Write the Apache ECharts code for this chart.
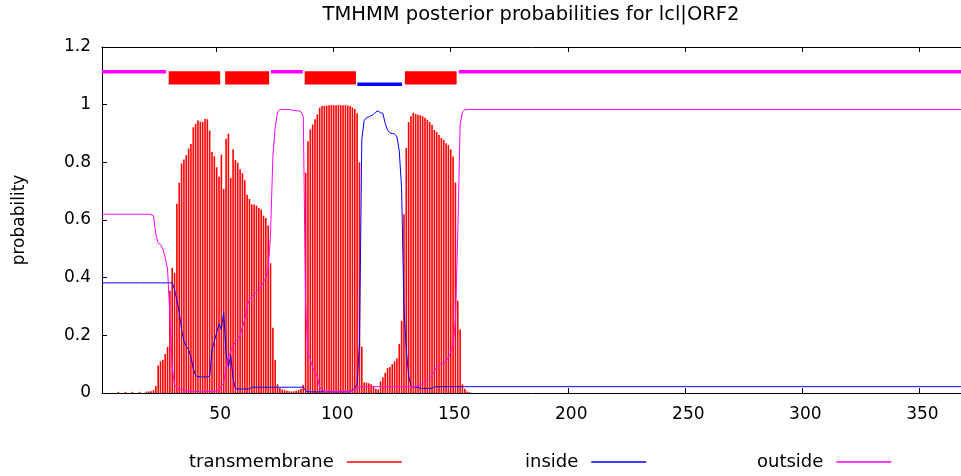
<!DOCTYPE html>
<html><head><meta charset="utf-8">
<script src="https://cdn.jsdelivr.net/npm/echarts@6/dist/echarts.min.js"></script>
<style>html,body{margin:0;padding:0;background:#fff}#c{width:961px;height:476px}</style>
</head><body><div id="c"></div>
<script>
const chartTitle = 'TMHMM posterior probabilities for lcl|ORF2';
const yAxisName = 'probability';
const seqLength = 368;
const xTickValues = [50, 100, 150, 200, 250, 300, 350];
const seriesNames = ['transmembrane', 'inside', 'outside'];

// per-residue posterior probabilities, residues 1..158
const tmProb = [
0,0,0,0,0,0,0,0.004,0,0,
0.004,0,0,0.004,0,0,0.004,0,0,0.005,
0.005,0.006,0.01,0.024,0.095,0.11,0.115,0.135,0.16,0.355,
0.434,0.417,0.656,0.729,0.796,0.81,0.825,0.848,0.864,0.922,
0.934,0.945,0.941,0.94,0.951,0.949,0.91,0.836,0.821,0.783,
0.75,0.827,0.708,0.882,0.899,0.746,0.845,0.808,0.799,0.776,
0.762,0.738,0.688,0.673,0.654,0.654,0.65,0.642,0.636,0.615,
0.607,0.581,0.45,0.226,0.114,0.03,0.018,0.012,0.01,0.008,
0.006,0.005,0.006,0.008,0.01,0.015,0.028,0.764,0.873,0.914,
0.931,0.949,0.966,0.989,0.995,0.996,0.997,0.998,0.998,0.998,
0.998,0.998,0.998,0.998,0.998,0.997,0.995,0.99,0.985,0.97,
0.8,0.16,0.036,0.036,0.034,0.03,0.024,0.015,0.012,0.04,
0.055,0.07,0.087,0.09,0.1,0.11,0.12,0.17,0.25,0.62,
0.85,0.94,0.96,0.972,0.968,0.965,0.963,0.96,0.955,0.948,
0.94,0.93,0.912,0.905,0.895,0.885,0.878,0.866,0.86,0.845,
0.82,0.73,0.32,0.22,0.03,0.015,0.005,0.003
];
const insideProb = [
0.382,0.382,0.382,0.382,0.382,0.382,0.382,0.382,0.382,0.382,
0.382,0.382,0.382,0.382,0.382,0.382,0.382,0.382,0.382,0.382,
0.382,0.382,0.382,0.382,0.382,0.382,0.382,0.382,0.382,0.382,
0.382,0.359,0.32,0.28,0.22,0.18,0.162,0.15,0.125,0.085,
0.06,0.057,0.056,0.056,0.056,0.056,0.058,0.15,0.18,0.21,
0.24,0.22,0.28,0.14,0.09,0.13,0.05,0.015,0.014,0.014,
0.014,0.014,0.014,0.014,0.02,0.02,0.02,0.02,0.02,0.02,
0.02,0.02,0.02,0.02,0.02,0.02,0.02,0.02,0.02,0.02,
0.02,0.02,0.02,0.02,0.02,0.02,0.02,0.008,0.004,0.004,
0.004,0.004,0.004,0.004,0.004,0.004,0.004,0.004,0.004,0.004,
0.004,0.004,0.004,0.004,0.004,0.004,0.004,0.01,0.018,0.03,
0.17,0.88,0.945,0.955,0.958,0.962,0.966,0.975,0.978,0.972,
0.97,0.935,0.912,0.902,0.9,0.898,0.89,0.84,0.71,0.3,
0.15,0.06,0.025,0.02,0.02,0.02,0.016,0.016,0.016,0.016,
0.016,0.016,0.022,0.022,0.022,0.022,0.022,0.022,0.022,0.022,
0.022,0.022,0.022,0.022,0.022,0.022,0.022,0.022
];
const outsideProb = [
0.62,0.62,0.62,0.62,0.62,0.62,0.62,0.62,0.62,0.62,
0.62,0.62,0.62,0.62,0.62,0.62,0.62,0.62,0.62,0.62,
0.62,0.618,0.615,0.55,0.52,0.515,0.5,0.47,0.43,0.27,
0.09,0.028,0.018,0.014,0.012,0.01,0.008,0.006,0.005,0.005,
0.005,0.005,0.005,0.005,0.005,0.005,0.005,0.005,0.005,0.008,
0.01,0.024,0.035,0.09,0.12,0.145,0.162,0.178,0.186,0.2,
0.228,0.256,0.3,0.325,0.336,0.34,0.35,0.362,0.37,0.385,
0.4,0.428,0.55,0.82,0.92,0.975,0.983,0.983,0.983,0.983,
0.983,0.982,0.98,0.979,0.979,0.975,0.96,0.3,0.14,0.115,
0.09,0.07,0.058,0.02,0.01,0.006,0.006,0.006,0.006,0.006,
0.006,0.006,0.006,0.006,0.006,0.006,0.006,0.008,0.012,0.018,
0.022,0.022,0.022,0.022,0.022,0.022,0.022,0.022,0.022,0.022,
0.022,0.022,0.022,0.022,0.022,0.022,0.022,0.022,0.022,0.022,
0.022,0.022,0.022,0.022,0.022,0.023,0.028,0.033,0.04,0.046,
0.052,0.063,0.075,0.09,0.1,0.102,0.104,0.11,0.125,0.14,
0.17,0.25,0.55,0.93,0.975,0.982,0.983,0.983
];
// value at the last residue (flat tail)
const insideLast = 0.022;
const outsideLast = 0.983;

// predicted topology segments [start, end] in residue units
const topoOutside = [[1, 28.4], [73.2, 86.8], [153.4, 368]];
const topoInside = [[110.1, 129.2]];
const topoTM = [[29.5, 51.5], [53.6, 72.4], [87.6, 109.5], [130.4, 152.5]];

const RED = '#ff0000', BLUE = '#0000ff', MAG = '#ff00ff';
const FONT = 'DejaVu Sans';
const FS = 17;

const tmData = tmProb.map((v, i) => [i + 1, v]);
const inData = insideProb.map((v, i) => [i + 1, v]).concat([[seqLength, insideLast]]);
const outData = outsideProb.map((v, i) => [i + 1, v]).concat([[seqLength, outsideLast]]);
const topoData = []
  .concat(topoOutside.map(s => [s[0], s[1], 0]))
  .concat(topoInside.map(s => [s[0], s[1], 1]))
  .concat(topoTM.map(s => [s[0], s[1], 2]));

const chart = echarts.init(document.getElementById('c'), null, {renderer: 'canvas'});

function legendFor(name, left) {
  return {
    data: [name], left: left, top: 453, padding: 0, align: 'right',
    icon: 'rect', itemWidth: 55, itemHeight: 1.4,
    selectedMode: false,
    textStyle: {fontFamily: FONT, fontSize: 18, color: '#000', padding: [0, 8, 0, 0]}
  };
}

chart.setOption({
  animation: false,
  backgroundColor: '#fff',
  graphic: [{
    type: 'text', x: 531, y: 15,
    style: {text: chartTitle, fontFamily: FONT, fontSize: 19.5, fill: '#000', align: 'center', verticalAlign: 'middle'}
  }],
  grid: {left: 102, right: 0, top: 47, bottom: 83, containLabel: false},
  legend: [legendFor(seriesNames[0], 189), legendFor(seriesNames[1], 525), legendFor(seriesNames[2], 757)],
  xAxis: [{
    type: 'value', min: 1, max: seqLength, position: 'bottom',
    axisLine: {show: true, onZero: false, lineStyle: {color: '#000', width: 1}},
    axisTick: {show: true, inside: true, length: 5, customValues: xTickValues, lineStyle: {color: '#000'}},
    axisLabel: {show: true, customValues: xTickValues, margin: 13, padding: [0, 0, 0, 7], fontFamily: FONT, fontSize: FS, color: '#000'},
    splitLine: {show: false}
  }, {
    type: 'value', min: 1, max: seqLength, position: 'top',
    axisLine: {show: true, onZero: false, lineStyle: {color: '#000', width: 1}},
    axisTick: {show: true, inside: true, length: 5, customValues: xTickValues, lineStyle: {color: '#000'}},
    axisLabel: {show: false},
    splitLine: {show: false}
  }],
  yAxis: [{
    type: 'value', min: 0, max: 1.2, interval: 0.2,
    name: yAxisName, nameLocation: 'middle', nameGap: 74,
    nameTextStyle: {fontFamily: FONT, fontSize: FS, color: '#000'},
    axisLine: {show: true, lineStyle: {color: '#000', width: 1}},
    axisTick: {show: true, inside: true, length: 5, lineStyle: {color: '#000'}},
    axisLabel: {margin: 11, fontFamily: FONT, fontSize: FS, color: '#000'},
    splitLine: {show: false}
  }],
  series: [{
    name: seriesNames[0], type: 'bar', data: tmData, barWidth: 1.6,
    itemStyle: {color: RED}, z: 2
  }, {
    name: seriesNames[1], type: 'line', data: inData, showSymbol: false, symbol: 'none',
    lineStyle: {color: BLUE, width: 1}, itemStyle: {color: BLUE}, z: 3
  }, {
    name: seriesNames[2], type: 'line', data: outData, showSymbol: false, symbol: 'none',
    lineStyle: {color: MAG, width: 1}, itemStyle: {color: MAG}, z: 4
  }, {
    name: 'topology', type: 'custom', data: topoData, z: 5,
    encode: {x: [0, 1]},
    renderItem: function (params, api) {
      const s = api.value(0), e = api.value(1), k = api.value(2);
      if (k === 2) {
        const p = api.coord([s, 1.116]), q = api.coord([e, 1.070]);
        return {type: 'rect', shape: {x: p[0], y: p[1], width: q[0] - p[0], height: q[1] - p[1]}, style: {fill: RED}};
      }
      const lvl = k === 0 ? 1.114 : 1.071;
      const color = k === 0 ? MAG : BLUE;
      const p = api.coord([s, lvl]), q = api.coord([e, lvl]);
      return {type: 'rect', shape: {x: p[0], y: p[1] - 1.8, width: q[0] - p[0], height: 3.6}, style: {fill: color}};
    }
  }]
});
</script>
</body></html>
